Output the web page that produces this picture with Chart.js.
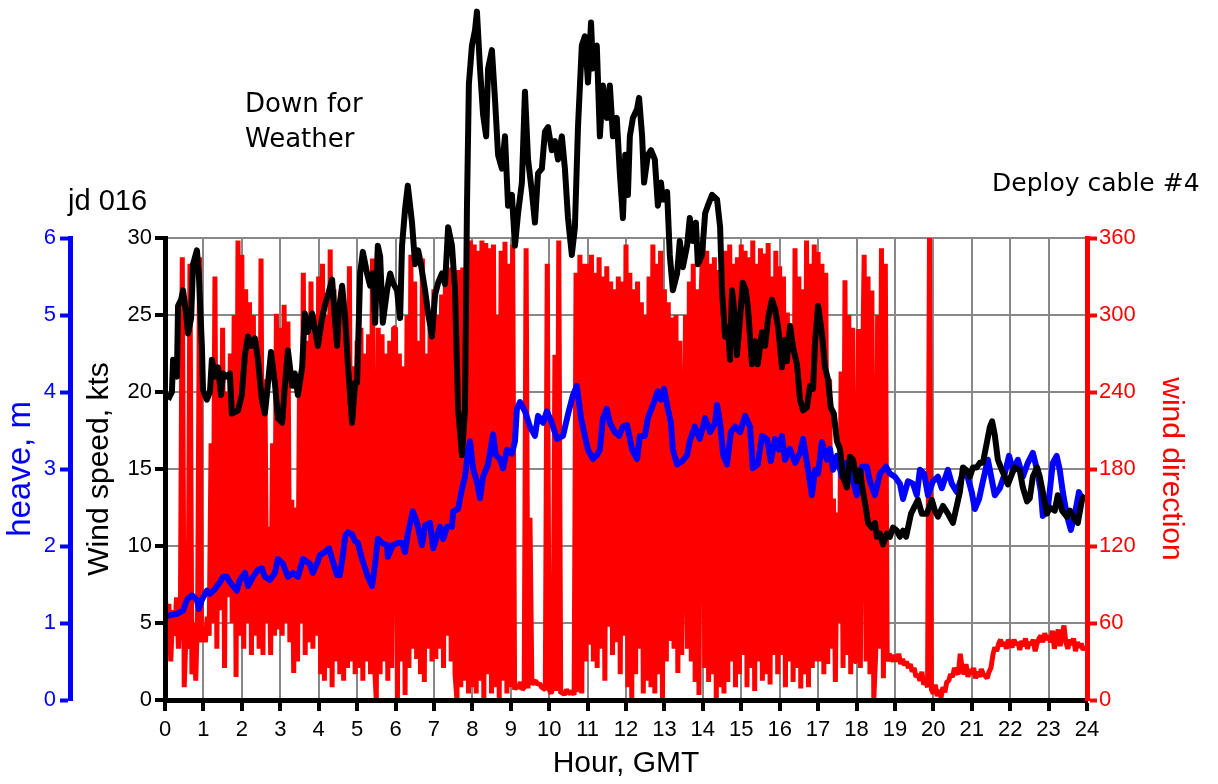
<!DOCTYPE html>
<html>
<head>
<meta charset="utf-8">
<script src="https://cdn.jsdelivr.net/npm/chart.js@4.4.1/dist/chart.umd.min.js"></script>
<style>
    html, body { margin: 0; padding: 0; background: #fff; overflow: hidden; }
    canvas { display: block; }
</style>
</head>
<body>
<canvas id="wind_chart" width="1218" height="784"></canvas>
<script>
// wind speed, kts (black line)
const windHours = [
    0.08, 0.18, 0.21, 0.31, 0.34, 0.42, 0.47, 0.55, 0.60, 0.68, 0.73, 0.83, 0.88, 0.96, 0.99,
    1.09, 1.17, 1.22, 1.30, 1.38, 1.46, 1.51, 1.61, 1.69, 1.74, 1.90,
    2.00, 2.08, 2.16, 2.24, 2.34, 2.42, 2.52, 2.60, 2.65, 2.76, 2.86, 2.94,
    3.05, 3.12, 3.20, 3.31, 3.38, 3.46, 3.57, 3.64, 3.72, 3.83, 3.98,
    4.09, 4.16, 4.24, 4.35, 4.42, 4.48, 4.53, 4.61, 4.69, 4.76, 4.87, 4.95,
    5.00, 5.08, 5.15, 5.26, 5.34, 5.41, 5.47, 5.54, 5.60, 5.67, 5.78, 5.86, 5.93,
    6.04, 6.12, 6.17, 6.25, 6.32, 6.43, 6.51, 6.59, 6.66, 6.77, 6.85, 6.95,
    7.03, 7.11, 7.21, 7.29, 7.37, 7.47, 7.55, 7.63, 7.73, 7.81, 7.86, 7.91, 7.99,
    8.07, 8.12, 8.20, 8.28, 8.36, 8.41, 8.51, 8.59, 8.67, 8.77, 8.85, 8.93,
    9.03, 9.11, 9.19, 9.29, 9.37, 9.45, 9.55, 9.63, 9.71, 9.81, 9.89, 9.97,
    10.07, 10.15, 10.23, 10.33, 10.41, 10.49, 10.59, 10.67, 10.75, 10.85, 10.93,
    11.01, 11.09, 11.14, 11.24, 11.32, 11.40, 11.50, 11.58, 11.66, 11.76, 11.84, 11.92, 11.98,
    12.05, 12.10, 12.18, 12.29, 12.34, 12.42, 12.47, 12.57, 12.65, 12.75, 12.83, 12.91, 12.96,
    13.07, 13.14, 13.22, 13.33, 13.40, 13.48, 13.59, 13.66, 13.74, 13.82, 13.87, 13.98,
    14.06, 14.13, 14.24, 14.37, 14.45, 14.50, 14.58, 14.65, 14.71, 14.76, 14.84, 14.89, 14.97,
    15.04, 15.12, 15.17, 15.28, 15.36, 15.43, 15.54, 15.62, 15.70, 15.80, 15.88, 15.96,
    16.06, 16.14, 16.19, 16.27, 16.35, 16.45, 16.53, 16.61, 16.71, 16.79, 16.87, 16.92,
    17.00, 17.10, 17.18, 17.26, 17.33, 17.41, 17.49, 17.57, 17.65, 17.75, 17.83, 17.91,
    18.01, 18.09, 18.17, 18.25, 18.30, 18.40, 18.48, 18.53, 18.61, 18.69, 18.79, 18.87, 18.95,
    19.05, 19.13, 19.21, 19.29, 19.42, 19.52, 19.60, 19.70, 19.83, 19.96,
    20.04, 20.12, 20.25, 20.38, 20.51, 20.61, 20.69, 20.77, 20.87, 20.95,
    21.03, 21.13, 21.21, 21.29, 21.40, 21.47, 21.53, 21.60, 21.68, 21.79, 21.86, 21.94,
    22.05, 22.12, 22.25, 22.33, 22.44, 22.51, 22.59, 22.70, 22.77, 22.85, 22.96,
    23.03, 23.16, 23.24, 23.35, 23.48, 23.56, 23.69, 23.76, 23.87, 23.95
]
const windSpeed = [
    19.5, 20, 22.1, 21, 25.6, 26, 26.6, 25.1, 23.8, 24.8, 28.3, 29.2, 27.7, 23, 20.1,
    19.5, 20, 22.1, 21, 21.6, 19.8, 21.2, 21, 21.2, 18.6, 18.8,
    19.8, 22.4, 23.6, 23, 23.5, 22.1, 19.5, 18.6, 19.8, 22.6, 20.6, 18.3,
    18, 20.4, 22.7, 20.4, 21.2, 19.8, 21.6, 25.1, 23.9, 25.1, 23,
    24.8, 25.6, 26.3, 27.3, 24.8, 23, 25.4, 26.9, 24.8, 21.8, 18, 20.6,
    20.6, 27.7, 29.1, 27.7, 26.9, 27.7, 24.5, 29.5, 28.8, 24.5, 26.6, 27.7, 27.1,
    26.6, 24.8, 29.5, 31.9, 33.4, 31, 28.3, 29.2, 28.3, 26.6, 25.1, 23.6,
    26.3, 27.1, 27.7, 27, 30.7, 29.5, 26.6, 18.9, 15.9, 18.9, 32, 40, 42.5,
    43.5, 44.7, 41, 38, 36.6, 41, 42.2, 39, 35.4, 34.5, 36.6, 32.1,
    32.8, 29.5, 31.6, 33.6, 39.5, 35.1, 33, 31, 34.2, 34.5, 36.9, 37.2,
    35.7, 36.3, 35.1, 36.6, 34.5, 31.3, 28.9, 30.7, 37.2, 42.5, 43.1,
    40.1, 44, 41, 42.5, 36.6, 39.9, 37.8, 39.9, 36.6, 37.8, 34.2, 31.3, 35.4,
    32.8, 36.6, 37.8, 38.4, 39.1, 36.6, 33.6, 35.4, 35.7, 35.1, 32.1, 33.6, 32.5,
    33, 28.9, 26.6, 27.7, 29.8, 28.1, 29.5, 31.3, 29.8, 31, 28.3, 28.9,
    31.6, 32.1, 32.8, 32.5, 30.7, 26.6, 23.6, 24.2, 22.1, 26.6, 24.8, 22.4, 24.8,
    27.1, 26.6, 25.6, 21.8, 23.3, 21.8, 23.9, 23, 24.8, 26, 25.4, 24.2,
    21.6, 23.4, 22, 24.3, 22.9, 21.8, 19.5, 18.8, 19, 20.4, 20.2, 23.2,
    25.6, 23.8, 21.6, 20.8, 19, 18.6, 16.8, 16.3, 14.5, 13.8, 15.8, 15.6,
    14.2, 14.9, 13.5, 12.4, 11.5, 11.2, 11.5, 10.6, 10.8, 10.1, 10.8, 10.6, 11.2,
    11, 10.6, 11, 10.6, 12.1, 12.6, 13, 12.1, 12.1, 13,
    12.3, 11.9, 12.6, 12.1, 11.5, 12.6, 13.5, 15.1, 14.9, 14.5,
    15.1, 15.1, 15.4, 15.4, 16.8, 17.7, 18.1, 17.2, 15.6, 14.9, 14.5, 14,
    14.7, 15.1, 14.9, 13.8, 12.9, 13.1, 14.5, 15.1, 14.5, 13.5, 12.1,
    12.5, 12.3, 13.3, 12.3, 11.9, 12.3, 11.7, 11.5, 13, 13.3
]

// heave, m (blue line)
const heaveHours = [
    0.05, 0.31, 0.47, 0.57, 0.70, 0.83, 0.88, 0.96,
    1.09, 1.17, 1.30, 1.43, 1.51, 1.61, 1.69, 1.87, 1.95,
    2.08, 2.16, 2.29, 2.42, 2.52, 2.60, 2.73, 2.86, 2.94,
    3.07, 3.20, 3.33, 3.46, 3.59, 3.77, 3.85, 3.98,
    4.03, 4.16, 4.27, 4.35, 4.48, 4.55, 4.63, 4.69, 4.76, 4.87, 4.95,
    5.02, 5.13, 5.21, 5.28, 5.39, 5.47, 5.54, 5.65, 5.78, 5.80, 5.93,
    6.06, 6.17, 6.25, 6.32, 6.45, 6.56, 6.69, 6.77, 6.90, 6.98,
    7.08, 7.16, 7.24, 7.34, 7.47, 7.50, 7.63, 7.73, 7.81, 7.89, 7.94,
    8.02, 8.12, 8.20, 8.28, 8.41, 8.54, 8.61, 8.72, 8.80, 8.90,
    9.03, 9.11, 9.16, 9.24, 9.37, 9.50, 9.63, 9.71, 9.84, 9.94,
    10.07, 10.20, 10.36, 10.49, 10.62, 10.72, 10.83, 10.93,
    11.01, 11.14, 11.24, 11.32, 11.40, 11.50, 11.58, 11.71, 11.82, 11.92,
    12.03, 12.16, 12.29, 12.36, 12.49, 12.57, 12.70, 12.83, 12.91, 12.99,
    13.09, 13.17, 13.22, 13.33, 13.46, 13.59, 13.66, 13.79, 13.92,
    14.06, 14.19, 14.32, 14.37, 14.45, 14.53, 14.63, 14.73, 14.84, 14.97,
    15.10, 15.23, 15.30, 15.43, 15.54, 15.67, 15.77, 15.88, 15.98,
    16.06, 16.14, 16.27, 16.40, 16.53, 16.61, 16.71, 16.84, 16.92,
    17.00, 17.10, 17.23, 17.31, 17.39, 17.49, 17.62, 17.75, 17.88,
    18.01, 18.14, 18.27, 18.35, 18.48, 18.61, 18.77, 18.87,
    19.00, 19.13, 19.21, 19.34, 19.47, 19.57, 19.65, 19.76, 19.86, 19.99,
    20.12, 20.22, 20.38, 20.48, 20.61, 20.74, 20.87,
    21.00, 21.08, 21.19, 21.29, 21.42, 21.53, 21.60, 21.73, 21.86, 21.97,
    22.07, 22.20, 22.33, 22.46, 22.59, 22.70, 22.80, 22.85, 22.98,
    23.11, 23.21, 23.29, 23.37, 23.48, 23.58, 23.69, 23.79, 23.87
]
const heaveValues = [
    1.09, 1.12, 1.16, 1.3, 1.36, 1.3, 1.18, 1.3,
    1.42, 1.38, 1.44, 1.53, 1.6, 1.6, 1.53, 1.42, 1.56,
    1.65, 1.48, 1.6, 1.69, 1.71, 1.6, 1.56, 1.65, 1.83,
    1.77, 1.6, 1.65, 1.6, 1.83, 1.77, 1.65, 1.8,
    1.88, 1.92, 1.97, 1.83, 1.62, 1.62, 1.88, 2.13, 2.18, 2.15, 2.06,
    2.04, 1.83, 1.71, 1.6, 1.48, 1.77, 2.09, 2.04, 2.01, 1.86, 2.01,
    2.04, 2.04, 1.92, 2.16, 2.45, 2.3, 2.01, 2.27, 2.3, 1.97,
    2.13, 2.25, 2.09, 2.25, 2.25, 2.45, 2.48, 2.74, 2.9, 3.25, 3.36,
    3.01, 2.83, 2.62, 2.9, 3.06, 3.45, 3.18, 3.13, 3.01, 3.25,
    3.2, 3.36, 3.78, 3.87, 3.75, 3.55, 3.43, 3.69, 3.6, 3.75,
    3.6, 3.39, 3.43, 3.71, 3.96, 4.08, 3.66, 3.43,
    3.25, 3.13, 3.18, 3.25, 3.66, 3.78, 3.6, 3.48, 3.43, 3.55,
    3.57, 3.25, 3.13, 3.43, 3.43, 3.66, 3.83, 4.01, 3.9, 4.04,
    3.78, 3.6, 3.25, 3.06, 3.1, 3.18, 3.36, 3.55, 3.39,
    3.66, 3.48, 3.6, 3.83, 3.6, 3.18, 3.06, 3.48, 3.55, 3.48,
    3.69, 3.55, 3.01, 3.06, 3.43, 3.39, 3.1, 3.39, 3.25,
    3.43, 3.12, 3.26, 3.08, 3.21, 3.39, 3.08, 2.66, 2.99,
    2.94, 3.35, 3.12, 3.26, 2.99, 3.17, 2.9, 3.08, 2.9,
    2.66, 3.03, 3.03, 2.84, 2.66, 2.94, 3.03, 2.94,
    2.9, 2.81, 2.61, 2.84, 2.81, 2.66, 2.99, 2.94, 2.66, 2.84,
    2.9, 2.75, 2.99, 2.81, 2.7, 2.9, 2.94,
    2.7, 2.48, 2.61, 2.84, 3.12, 2.84, 2.66, 2.75, 2.94, 3.17,
    2.99, 3.12, 2.9, 3.08, 3.21, 2.99, 2.7, 2.39, 2.48,
    3.08, 3.17, 2.99, 2.7, 2.39, 2.21, 2.43, 2.7, 2.61
]

// wind direction, degrees (red line), one reading every 3 minutes from 00:00
const dirStepHours = 0.05
const windDirection = [
    85, 60, 75, 30, 70, 50, 80, 40, 65, 345, 10, 55, 40, 340, 20, 60, 15, 70, 345, 45,
    55, 45, 65, 50, 200, 60, 330, 40, 260, 70, 290, 25, 240, 80, 270, 60, 300, 18, 358, 50,
    347, 40, 320, 60, 310, 35, 300, 50, 280, 40, 344, 35, 250, 60, 135, 35, 200, 50, 301, 55,
    290, 50, 308, 60, 295, 45, 156, 21, 150, 30, 240, 60, 333, 35, 280, 45, 326, 40, 300, 50,
    330, 20, 340, 15, 300, 25, 351, 10, 320, 30, 280, 20, 310, 15, 290, 25, 338, 30, 260, 20,
    280, 25, 290, 15, 270, 30, 285, 20, 344, 30, 0, 290, 20, 285, 30, 270, 15, 280, 25, 290,
    290, 0, 270, 30, 260, 4, 300, 25, 347, 40, 326, 32, 280, 20, 344, 14, 270, 40, 290, 30,
    320, 32, 300, 40, 316, 25, 330, 50, 337, 30, 320, 20, 0, 335, 10, 337, 15, 345, 5, 358,
    10, 355, 5, 350, 15, 358, 0, 356, 20, 352, 5, 355, 10, 300, 0, 350, 15, 357, 5, 340,
    10, 355, 8, 12, 9, 14, 8, 10, 352, 9, 142, 12, 14, 15, 12, 13, 10, 9, 8, 340,
    8, 5, 10, 269, 7, 358, 5, 6, 4, 8, 6, 5, 7, 4, 333, 6, 347, 5, 340, 30,
    340, 43, 347, 30, 333, 25, 345, 40, 330, 15, 338, 57, 326, 35, 320, 45, 330, 20, 326, 50,
    355, 10, 333, 0, 320, 20, 326, 40, 310, 5, 300, 15, 330, 10, 355, 5, 340, 20, 350, 0,
    320, 30, 310, 46, 298, 40, 300, 21, 280, 35, 150, 300, 40, 326, 30, 340, 14, 320, 4, 310,
    358, 25, 350, 14, 340, 20, 345, 0, 335, 10, 326, 5, 350, 14, 355, 30, 340, 10, 345, 20,
    355, 35, 350, 10, 345, 25, 358, 7, 340, 30, 352, 15, 348, 20, 356, 12, 330, 35, 350, 20,
    338, 35, 330, 10, 302, 30, 291, 14, 352, 25, 330, 9, 320, 20, 358, 10, 340, 25, 355, 30,
    349, 30, 340, 20, 333, 28, 250, 40, 157, 14, 146, 60, 256, 25, 327, 35, 300, 20, 290, 30,
    30, 289, 25, 240, 347, 30, 330, 20, 319, 0, 36, 300, 40, 352, 17, 340, 30, 36, 33, 30,
    35, 30, 36, 28, 32, 27, 30, 25, 28, 22, 25, 18, 20, 15, 22, 12, 15, 10, 360, 8,
    5, 12, 3, 8, 2, 10, 6, 14, 15, 20, 18, 25, 22, 20, 36, 25, 20, 28, 18, 24,
    20, 25, 17, 22, 18, 24, 20, 19, 17, 22, 25, 35, 41, 38, 44, 47, 42, 45, 40, 47,
    44, 41, 47, 43, 45, 39, 46, 42, 48, 40, 45, 43, 47, 38, 44, 48, 50, 45, 52, 47,
    50, 45, 54, 40, 48, 55, 42, 50, 58, 45, 40, 47, 43, 48, 38, 45, 41, 44, 39, 42
]

const labelFont = "'Liberation Sans', Arial, sans-serif"
const noteFont = "'DejaVu Sans', sans-serif"

// text written on the figure (not data)
const notesPlugin = {
    id: "notes",
    afterDraw(chart) {
        const ctx = chart.ctx
        ctx.save()
        ctx.fillStyle = "#000"
        ctx.textBaseline = "alphabetic"
        ctx.textAlign = "left"
        ctx.font = "26px " + noteFont
        ctx.fillText("Down for", 245, 112)
        ctx.fillText("Weather", 245, 147)
        ctx.font = "25px " + noteFont
        ctx.fillText("Deploy cable #4", 992, 191)
        ctx.font = "29px " + labelFont
        ctx.fillText("jd 016", 68, 210)
        ctx.restore()
    }
}

function edgeGrid(lo, hi) {
    return (c) => (c.tick && (c.tick.value === lo || c.tick.value === hi)) ? "rgba(0,0,0,0)" : "#888888"
}

function create_chart(ctx) {
    const speedPoints = windHours.map((h, i) => ({x: h, y: windSpeed[i]}))
    const heavePoints = heaveHours.map((h, i) => ({x: h, y: heaveValues[i]}))
    const directionPoints = windDirection.map((d, i) => ({x: i * dirStepHours, y: d}))

    const data = {
        datasets: [{
            label: "Wind speed, kts",
            data: speedPoints,
            yAxisID: "y",
            borderColor: "#000000",
            borderWidth: 6,
            borderJoinStyle: "round",
            clip: false
        }, {
            label: "heave, m",
            data: heavePoints,
            yAxisID: "yHeave",
            borderColor: "#0000ff",
            borderWidth: 6,
            borderJoinStyle: "round"
        }, {
            label: "wind direction",
            data: directionPoints,
            yAxisID: "yDir",
            borderColor: "#ff0000",
            borderWidth: 5,
            borderJoinStyle: "bevel"
        }]
    }

    const config = {
        type: "line",
        data: data,
        plugins: [notesPlugin],
        options: {
            responsive: false,
            animation: false,
            layout: {padding: {top: 238, left: 0, right: 0, bottom: 0}},
            elements: {point: {radius: 0}, line: {tension: 0}},
            plugins: {legend: {display: false}, tooltip: {enabled: false}},
            scales: {
                x: {
                    type: "linear",
                    position: "bottom",
                    min: 0,
                    max: 24,
                    afterFit: (s) => { s.height = 84 },
                    ticks: {stepSize: 1, autoSkip: false, maxRotation: 0, color: "#000", padding: 6,
                        font: {family: labelFont, size: 22}},
                    grid: {color: edgeGrid(0, 24), lineWidth: 2, tickColor: "#000", tickWidth: 4, tickLength: 11},
                    border: {color: "#000", width: 5, z: 1},
                    title: {display: true, text: "Hour, GMT", color: "#000",
                        font: {family: labelFont, size: 30}, padding: {top: 0, bottom: 2}}
                },
                y: {
                    type: "linear",
                    position: "left",
                    weight: 0,
                    min: 0,
                    max: 30,
                    afterFit: (s) => { s.width = 95 },
                    ticks: {stepSize: 5, color: "#000", padding: 3, font: {family: labelFont, size: 22}},
                    grid: {color: edgeGrid(0, -1), lineWidth: 2, tickColor: "#000", tickWidth: 4, tickLength: 10},
                    border: {color: "#000", width: 5, z: 1},
                    title: {display: true, text: "Wind speed, kts", color: "#000",
                        font: {family: labelFont, size: 30}, padding: {top: 12, bottom: 0}}
                },
                yHeave: {
                    type: "linear",
                    position: "left",
                    weight: 1,
                    min: 0,
                    max: 6,
                    afterFit: (s) => { s.width = 70 },
                    ticks: {stepSize: 1, color: "#0000ff", padding: 4, font: {family: labelFont, size: 22}},
                    grid: {drawOnChartArea: false, color: "#0000ff", tickColor: "#0000ff", tickWidth: 4, tickLength: 10},
                    border: {color: "#0000ff", width: 5, z: 1},
                    title: {display: true, text: "heave, m", color: "#0000ff",
                        font: {family: labelFont, size: 33}, padding: {top: 1, bottom: 0}}
                },
                yDir: {
                    type: "linear",
                    position: "right",
                    min: 0,
                    max: 360,
                    afterFit: (s) => { s.width = 131 },
                    ticks: {stepSize: 60, color: "#ff0000", padding: 2, font: {family: labelFont, size: 22}},
                    grid: {drawOnChartArea: false, color: "#ff0000", tickColor: "#ff0000", tickWidth: 4, tickLength: 10},
                    border: {color: "#ff0000", width: 5, z: 1},
                    title: {display: true, text: "wind direction", color: "#ff0000",
                        font: {family: labelFont, size: 30}, padding: {top: 29, bottom: 0}}
                }
            }
        }
    }
    return new Chart(ctx, config)
}

create_chart(document.querySelector("#wind_chart"))
</script>
</body>
</html>
